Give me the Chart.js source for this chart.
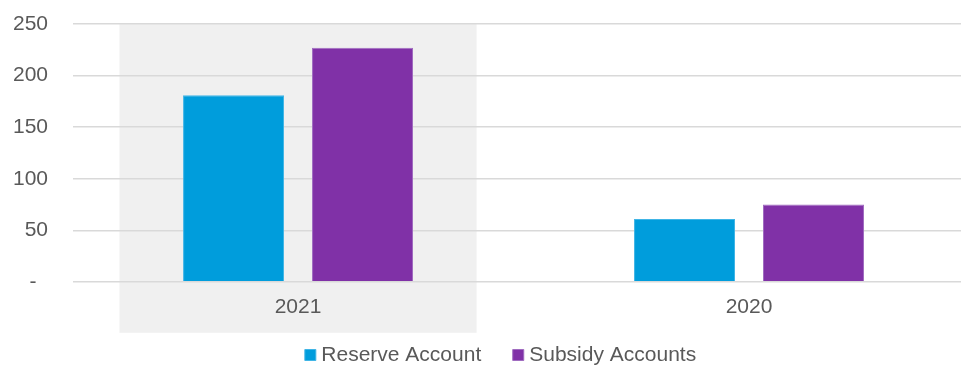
<!DOCTYPE html>
<html>
<head>
<meta charset="utf-8">
<script src="https://cdn.jsdelivr.net/npm/chart.js@4.4.0/dist/chart.umd.min.js"></script>
<style>
  html, body { margin: 0; padding: 0; background: #fff; overflow: hidden; }
  #wrap { width: 961px; height: 365px; overflow: hidden; position: relative; }
  #box { position: absolute; left: -12px; top: -13.1px; width: 987px; height: 405.5px; }
</style>
</head>
<body>
<div id="wrap"><div id="box"><canvas id="accounts"></canvas></div></div>
<script>
// balances by year
const years = ['2021', '2020'];
const reserveAccount = [181, 61];
const subsidyAccounts = [227, 75];
const yMax = 250;
const yStep = 50;
const highlightYear = '2021';

const textColor = '#595959';
const fontFamily = "'Liberation Sans', Arial, sans-serif";

// grey band behind the highlighted year, runs down past the axis labels
const highlightBand = {
    id: 'highlightBand',
    beforeDraw(chart) {
        const { ctx, scales: { x, y } } = chart;
        const idx = years.indexOf(highlightYear);
        if (idx < 0) return;
        const center = x.getPixelForValue(idx);
        const half = (x.width / years.length) * 0.792 / 2;
        const top = y.getPixelForValue(yMax);
        const bottom = y.getPixelForValue(0) + 51;
        ctx.save();
        ctx.fillStyle = '#f0f0f0';
        ctx.fillRect(center - half, top, half * 2, bottom - top);
        ctx.restore();
    }
};

// nudge the legend off the default centred spot
const legendShift = { x: 21.5, y: -17 };
const legendNudge = {
    id: 'legendNudge',
    afterLayout(chart) {
        const lg = chart.legend;
        if (!lg) return;
        lg.left += legendShift.x;
        lg.right += legendShift.x;
        lg.top += legendShift.y;
        lg.bottom += legendShift.y;
    }
};

const ctx = document.getElementById('accounts').getContext('2d');
new Chart(ctx, {
    type: 'bar',
    data: {
        labels: years,
        datasets: [
            {
                label: 'Reserve Account',
                data: reserveAccount,
                backgroundColor: '#009ddc',
                borderColor: '#40b5e6',
                borderWidth: 1,
                categoryPercentage: 0.572,
                barPercentage: 0.783
            },
            {
                label: 'Subsidy Accounts',
                data: subsidyAccounts,
                backgroundColor: '#8031a7',
                borderColor: '#a06cc0',
                borderWidth: 1,
                categoryPercentage: 0.572,
                barPercentage: 0.783
            }
        ]
    },
    options: {
        responsive: true,
        maintainAspectRatio: false,
        animation: false,
        layout: { padding: { top: 0, left: 0.5, right: 0.5, bottom: 0 } },
        plugins: {
            tooltip: { enabled: false },
            legend: {
                position: 'bottom',
                labels: {
                    usePointStyle: true,
                    pointStyle: 'rect',
                    boxWidth: 1,
                    boxHeight: 11,
                    padding: 36.5,
                    color: textColor,
                    font: { family: fontFamily, size: 21 }
                }
            }
        },
        scales: {
            x: {
                grid: { display: false },
                border: { display: false },
                ticks: {
                    color: textColor,
                    padding: 5,
                    font: { family: fontFamily, size: 21 }
                }
            },
            y: {
                min: 0,
                max: yMax,
                grid: { color: '#d9d9d9', lineWidth: 1.5, drawTicks: false },
                border: { display: false },
                ticks: {
                    stepSize: yStep,
                    color: textColor,
                    padding: 24.5,
                    font: { family: fontFamily, size: 21 },
                    callback: v => v === 0 ? '-\u00a0\u00a0' : v
                }
            }
        }
    },
    plugins: [highlightBand, legendNudge]
});
</script>
</body>
</html>
